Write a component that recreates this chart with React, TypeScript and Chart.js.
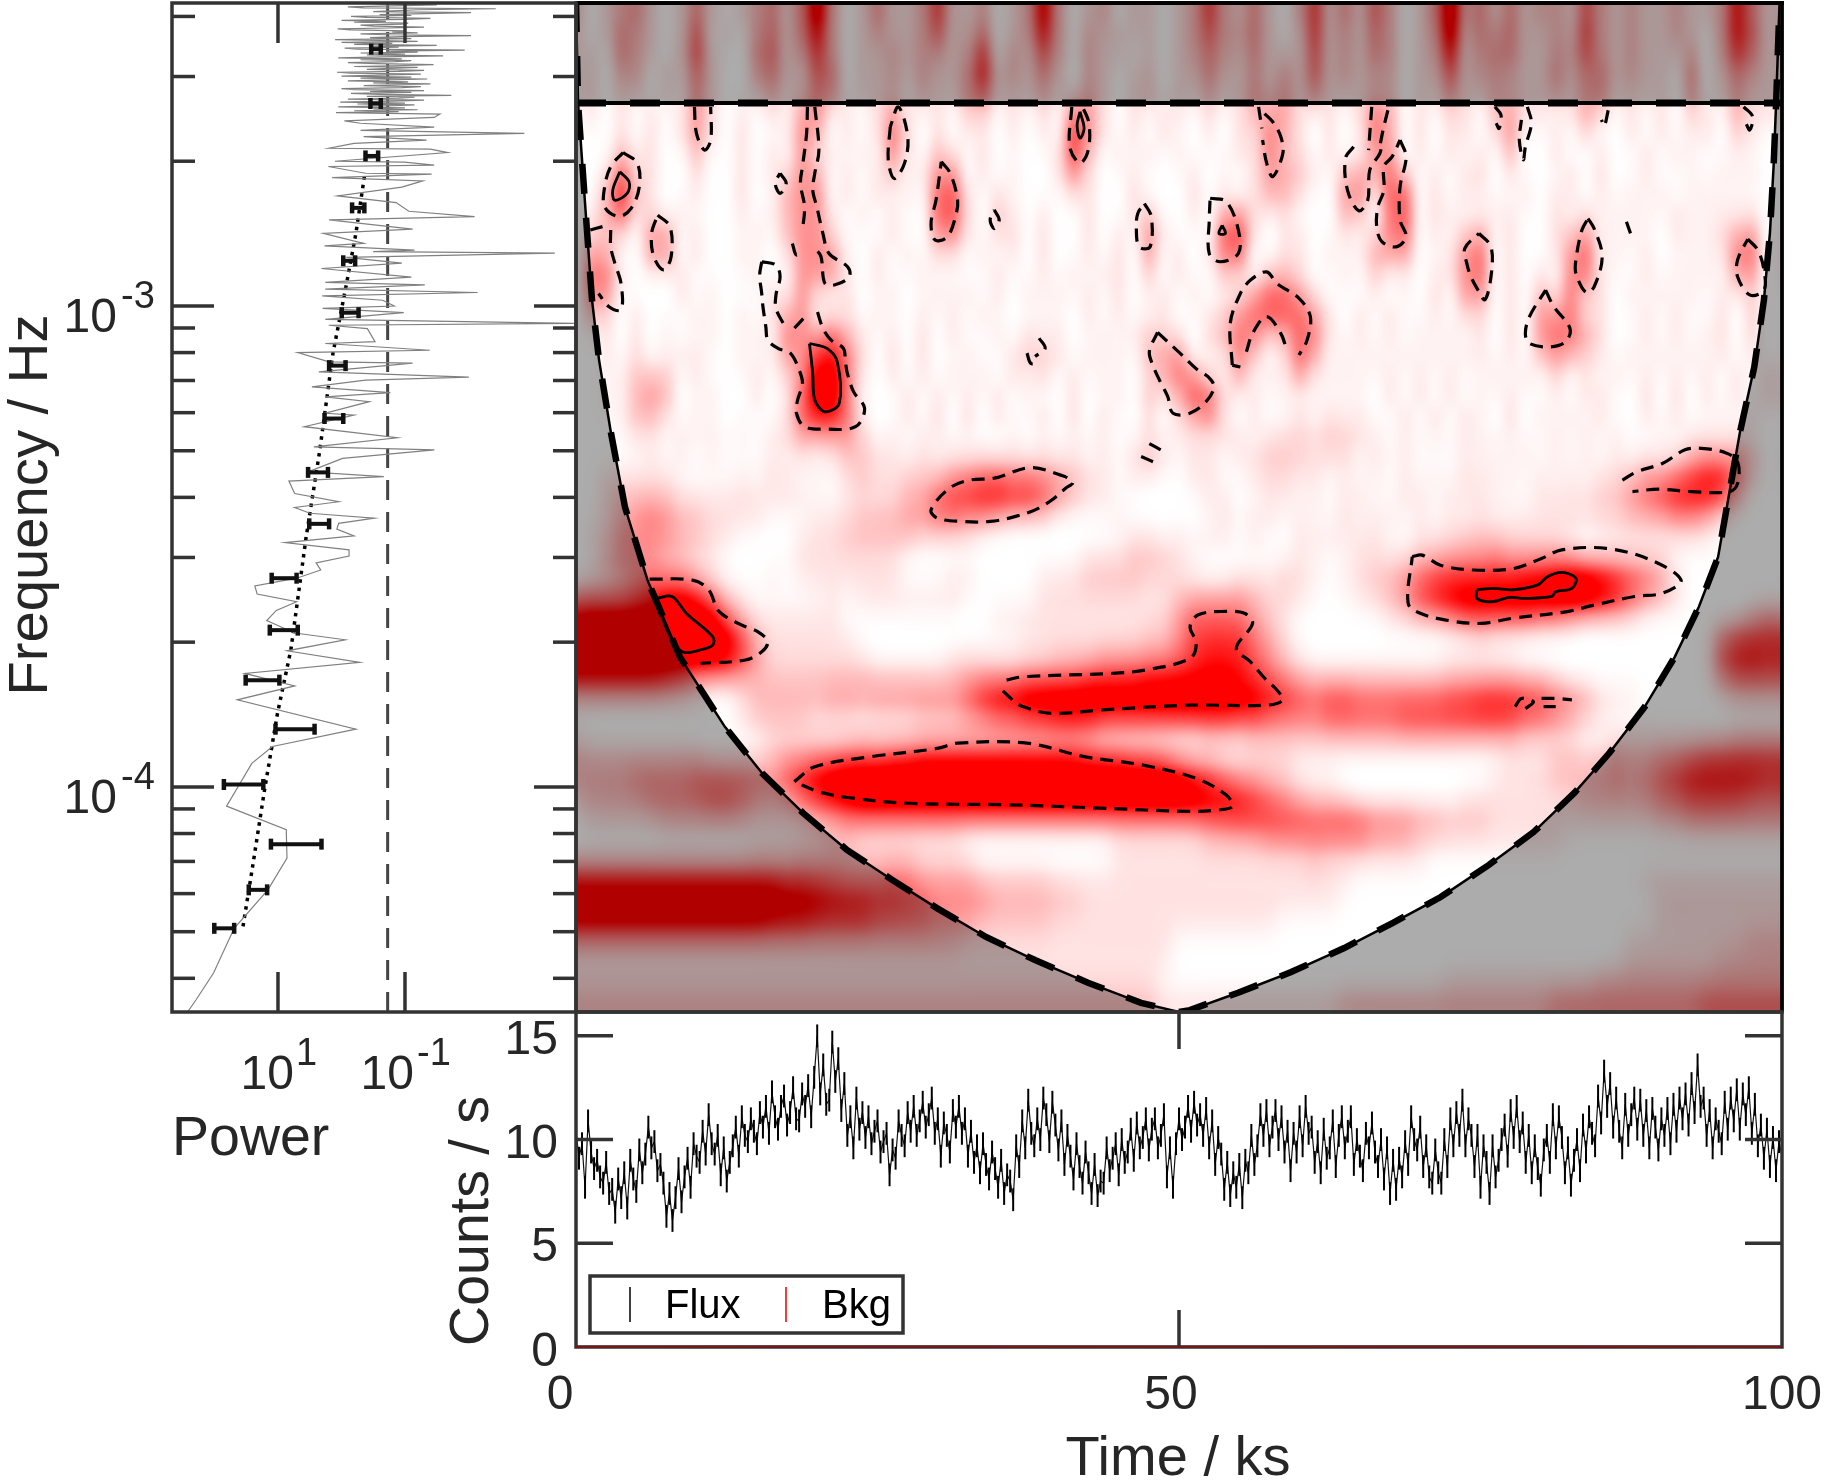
import React, { useEffect, useRef } from "react";
import { Chart, registerables } from "chart.js";

Chart.register(...registerables);

const FONT = '"Liberation Sans", Arial, sans-serif';
const INK = "#262626";
const FRAME = "#333333";

// axis limits, log10 of Hz and log10 of power
const LOG_F_TOP = -2.37;
const LOG_F_BOTTOM = -4.468;
const LOG_F_NYQUIST = -2.578;
const LOG_P_LEFT = 2.669;
const LOG_P_RIGHT = -3.693;
const LOG_P_DASHED = -0.727;

const freqMajorTicks = [1e-3, 1e-4];
const freqMinorTicks = [4e-3, 3e-3, 2e-3, 9e-4, 8e-4, 7e-4, 6e-4, 5e-4, 4e-4, 3e-4, 2e-4, 9e-5, 8e-5, 7e-5, 6e-5, 5e-5, 4e-5];
const powerTicks = [10, 0.1];
const countTicks = [5, 10, 15];
const timeTicks = [50];

// global wavelet spectrum, log10 Hz / log10 power
const specLogFreq = [-4.468, -4.443, -4.387, -4.294, -4.214, -4.148, -4.089, -4.04, -3.951, -3.916, -3.88, -3.819, -3.79, -3.764, -3.741, -3.717, -3.694, -3.68, -3.654, -3.633, -3.615, -3.599, -3.582, -3.566, -3.549, -3.534, -3.52, -3.507, -3.492, -3.478, -3.464, -3.452, -3.441, -3.431, -3.419, -3.407, -3.39, -3.364, -3.355, -3.345, -3.317, -3.299, -3.293, -3.274, -3.251, -3.227, -3.223, -3.199, -3.189, -3.18, -3.168, -3.154, -3.148, -3.137, -3.119, -3.116, -3.097, -3.092, -3.078, -3.074, -3.047, -3.04, -3.036, -3.028, -3.014, -3.005, -3.0, -2.988, -2.979, -2.972, -2.965, -2.956, -2.951, -2.94, -2.922, -2.911, -2.899, -2.89, -2.887, -2.884, -2.875, -2.87, -2.849, -2.84, -2.821, -2.814, -2.803, -2.785, -2.771, -2.753, -2.74, -2.733, -2.726, -2.724, -2.71, -2.707, -2.701, -2.699, -2.681, -2.674, -2.672, -2.662, -2.655, -2.648, -2.641, -2.635, -2.628, -2.62, -2.615, -2.608, -2.601, -2.598,
  -2.596, -2.594, -2.592, -2.59, -2.588, -2.586, -2.584, -2.582, -2.58, -2.578, -2.576, -2.574, -2.572, -2.57, -2.568, -2.566, -2.564, -2.562, -2.56, -2.558, -2.556, -2.554, -2.552, -2.55, -2.548, -2.546, -2.544, -2.542, -2.54, -2.538, -2.536, -2.534, -2.532, -2.53, -2.528, -2.526, -2.524, -2.522, -2.52, -2.518, -2.516, -2.514, -2.512, -2.51, -2.508, -2.506, -2.504, -2.502, -2.5, -2.498, -2.496, -2.494, -2.492, -2.49, -2.488, -2.486, -2.484, -2.482, -2.48, -2.478, -2.476, -2.474, -2.472, -2.47, -2.468, -2.466, -2.464, -2.462, -2.46, -2.458, -2.456, -2.454, -2.452, -2.45, -2.448, -2.446, -2.444, -2.442, -2.44, -2.438, -2.436, -2.434, -2.432, -2.43, -2.428, -2.426, -2.424, -2.422, -2.42, -2.418, -2.416, -2.414, -2.412, -2.41, -2.408, -2.406, -2.404, -2.402, -2.4, -2.398, -2.396, -2.394, -2.392, -2.39, -2.388, -2.386, -2.384, -2.382, -2.38, -2.378, -2.376, -2.374, -2.372, -2.37];
const specLogPower = [2.425, 2.292, 2.015, 1.69, 1.159, 0.858, 0.87, 1.81, 1.412, 1.087, -0.227, 1.641, 0.737, 1.52, -0.287, 0.858, -0.058, 0.737, 1.177, 1.026, 0.707, 1.328, 1.364, 0.707, 0.327, 0.4, -0.119, -0.119, 0.888, -0.197, 0.074, 0.044, -0.516, 0.496, 0.737, 0.044, 0.737, 0.828, -0.667, 0.526, -0.016, -1.463, 0.436, -0.878, 0.587, -0.197, 0.255, -0.438, 0.255, -0.77, 0.466, -0.378, -2.005, 0.357, -1.119, 0.195, 0.689, -1.39, 0.255, -0.528, -0.408, 0.2, -3.66, 0.255, -0.98, 0.297, -0.83, -0.649, 0.303, -2.144, 0.255, -1.312, 0.255, -1.1, 0.315, -0.95, -0.076, -3.36, -0.498, -1.15, 0.267, -0.348, 0.285, -1.12, 0.195, -2.096, -1.06, -0.86, 0.062, -0.95, -1.28, 0.147, -1.42, -0.378, 0.207, -1.46, -0.99, 0.104, -1.67, -1.4, 0.195, -0.197, -1.34, -0.348, -2.88, -0.3, -1.46, -0.3, -0.046, -1.46, -1.55, 0.086,
  -0.9, -0.2, -1.2, -0.5, -1.0, 0.05, -0.7, -1.15, -0.25, -1.0, 0.02, -0.8, -1.3, -0.1, -0.9, -1.15, -0.4, -1.73, -0.6, -0.15, -1.1, -0.45, -1.3, -0.2, 0.0, -0.95, -1.25, -0.35, -0.85, -1.4, -0.5, -1.05, -0.1, -0.75, -1.35, -0.3, -1.1, 0.0, -0.6, -1.25, -0.15, 0.07, -0.9, -1.3, -0.4, -0.75, -1.2, -0.2, -1.0, -1.45, -0.55, -0.1, -0.85, -1.1, -0.3, -0.95, 0.05, -0.65, -1.6, -0.4, -1.0, -0.3, -1.2, -0.7, -1.94, -0.25, -0.05, -0.9, -0.5, -1.5, -0.2, -0.8, 0.0, -1.2, -0.6, 0.1, -1.1, -0.45, -0.95, -2.04, -0.7, -0.3, -1.2, -0.8, -1.0, -0.15, 0.06, -0.75, -1.3, -0.5, -0.3, -0.95, -1.05, -0.2, -0.7, 0.0, -1.0, -1.4, -0.4, -0.15, -1.1, -0.6, -1.3, -2.04, -0.5, -0.9, -1.2, -2.43, -0.35, -0.1, -0.8, -1.5, -0.6, -0.3];

// binned spectrum with its error bars
const binLogFreq = [-4.294, -4.214, -4.119, -3.995, -3.88, -3.778, -3.674, -3.566, -3.453, -3.346, -3.234, -3.124, -3.014, -2.906, -2.796, -2.688, -2.579, -2.466];
const binLogPowerHigh = [2.003, 1.46, 1.111, 1.852, 1.039, 1.509, 1.129, 1.099, 0.508, 0.526, 0.267, 0.195, -0.004, -0.028, -0.167, -0.378, -0.456, -0.468];
const binLogPowerLow = [1.69, 1.171, 0.315, 1.231, 0.424, 0.978, 0.689, 0.707, 0.195, 0.213, -0.028, -0.064, -0.269, -0.215, -0.36, -0.577, -0.619, -0.619];

// dotted power law fit
const fitLogFreq = [-4.29, -4.166, -4.013, -3.847, -3.715, -3.48, -3.303, -3.098, -2.956, -2.849, -2.726];
const fitLogPower = [1.551, 1.4, 1.22, 1.008, 0.797, 0.556, 0.345, 0.134, -0.076, -0.227, -0.366];

// cone of influence
const coiTime = [0, 0.17, 0.83, 1.33, 1.91, 2.9, 4.06, 5.93, 8.62, 12.35, 15.42, 18.82, 22.47, 26.2, 29.93, 34, 38.06, 42.45, 46.85, 50, 50.9, 54.9, 59.3, 63.7, 67.7, 71.7, 75.7, 79.4, 82.8, 85.7, 88.6, 91.1, 93.1, 94.7, 96.5, 97.7, 98.5, 99, 99.3, 99.5, 99.8];
const coiLogFreq = [-2.368, -2.578, -2.815, -2.988, -3.112, -3.264, -3.418, -3.57, -3.73, -3.875, -3.971, -4.054, -4.131, -4.193, -4.252, -4.312, -4.36, -4.407, -4.449, -4.468, -4.464, -4.428, -4.385, -4.335, -4.283, -4.229, -4.162, -4.094, -4.012, -3.929, -3.834, -3.73, -3.626, -3.522, -3.264, -3.127, -2.988, -2.848, -2.711, -2.586, -2.368];
const nyquistTime = [0, 100];

// wavelet power, top row first, 1.25 ks per column
const powerRows = [
  "2012310131 0123138201 3112511201 2720120110 1252131025 1314201382 3131221421 2112112631",
  "1013210140 1023136201 2112411301 2620211110 1242231015 1213201281 3231121521 2112102641",
  "1103210151 0034125201 1212212502 1420211010 1232131114 1213201261 2331122421 2111202531",
  "1102201131 0023114301 1212112612 1310210110 1131121214 1212201141 2221131331 2110301321",
  "1101101031 0012113301 1102113411 1210210120 1121131313 1111101131 1211121231 1110301211",
  "0101010131 0101033010 1310101101 0104310101 1010123210 1014301011 0231101310 1010110311",
  "0001010131 0100133010 1410101101 0105310101 0010113310 1014201011 0130010100 1010110110",
  "0002110020 0101030101 0310210100 0015201010 1000114110 1002301010 1020010010 0101000100",
  "0014110010 0101133010 1201330101 0013100100 0101012321 0233410101 1010001010 0100101010",
  "0026210010 0100333010 1010451010 0001100100 0100013210 0330450101 1001011010 1010010100",
  "0124110100 0101133101 0100441021 0100100120 0103310100 0220440110 0110010101 0101101010",
  "0121033010 0010333100 0100341011 0100101031 0004510110 0101340102 3010012310 1001011330",
  "0320033010 0100033310 1010100101 0100101030 1014400110 1013330013 4010013401 0100101340",
  "0441000100 0010133300 1001010010 0101011010 1001102210 0101000113 4010103410 0101010330",
  "0330000101 0001031020 0100101010 1010101011 0101134431 0001010103 3010214110 1010101010",
  "0210100010 0101330100 1001010100 0100101001 0011345543 1010100101 1010333110 0101001020",
  "0010101001 0010333431 0101010010 1010010121 1013431143 1010101010 1010344310 0101011010",
  "0010100110 0101335631 0101001001 2210101023 3010320243 0101010101 1010232110 1010101010",
  "0001222010 0010137741 0101010101 0101010012 4301301030 1010101010 0101010101 0101010101",
  "0010232001 0010147730 0010101010 1001001021 2551010101 0100101010 1010010110 0101010101",
  "0001221010 0000146641 0010101010 0101010010 1231010010 1010010101 0010101010 0101001010",
  "0000110101 0101132231 0101101001 0101010010 1111101121 2211010101 1010010101 0010110100",
  "0000010101 0001010122 1101010101 0101010131 0110112211 1101010001 0101010101 0101233320",
  "0011111000 0101101012 1122234453 4332110100 0110011111 0101010101 1010101011 2334566410",
  "0012222111 1111110011 1122455666 6532110000 0011001101 0110011011 1100111122 3456665200",
  "0012343221 1110001112 2233443321 1100001000 0001011010 0101101010 1011111111 2223321000",
  "0113333221 1000011122 2221111000 0000000110 1011010011 1111001112 2211111011 1111110000",
  "0023332211 0000011111 1100000000 0000111222 1100000010 0011112233 3433332111 1110000000",
  "0112343321 0001011111 1100011000 0111222211 1000111211 0112234555 5556678876 5431000000",
  "3333457764 2100000101 1111110000 0111111111 2333321110 0011235678 8888888876 4321000000",
  "7888888887 4211111100 0000000011 1111111111 3444432100 0000112234 4444332111 1000000023",
  "8888888888 7521111110 0000000000 1111111122 3555532100 0000000000 1000000000 0000004555",
  "8888888888 7531111111 0000011111 1122233333 4566654210 0000000011 1110000000 0000004565",
  "6666665422 2222222222 2222223333 4444555566 6666543322 2222222222 2222210000 0000003444",
  "1111111110 0122222333 3333334677 8888888888 8888887654 5544444455 6665544311 1000000111",
  "0000000000 0122221110 1112223344 5566655555 5555443333 4444455555 5554432110 0000000000",
  "1000000000 0001111112 1111111111 1111100000 0011122222 2222222222 2221111001 1111111222",
  "2222222221 1112334455 5667777777 7777666554 3221111100 0000000000 0011122223 2233455555",
  "2222333344 4443567888 8888888888 8888888888 7654332211 1000000000 0111122223 2345666665",
  "1222233334 4322245678 8888888888 8888888888 8877654321 1100000001 1111111222 2233444433",
  "0111112222 2211112233 3333333333 3333333333 3344555555 5554443322 2111111111 1122333333",
  "0000000000 0011111221 1111110000 0000001111 1122223333 3332221111 1111110000 0000000000",
  "1111111111 1111122222 2221111000 0000001111 1111111112 1111111000 0000000000 0000000000",
  "6666666666 6666554433 3443333222 2211111111 1111111111 1100000000 0000000000 0111111111",
  "8888888888 8888777666 5544333322 2222111111 1111111111 1000000000 0000000000 0011111111",
  "7777777777 7776665555 4444333222 2211111111 1111111000 0000000000 0000000000 0011111111",
  "2222222222 2222222222 2222221111 1111111111 0000000000 0000000000 0000000000 1111111122",
  "1111111111 1111111111 1111111111 1111111111 0000000000 0000000000 0000000000 1111112222",
  "1111111111 1111111111 1111111111 1111111110 0000000000 0000000011 1111111122 2222222222",
  "2222222222 2222222222 2222222222 2222222221 1111111111 1222222222 2222233333 3333344444",
];

// significance contours as [ks, log10 Hz]
const dashedContours: number[][][] = [
  [[3.9, -2.681], [5.08, -2.703], [5.25, -2.752], [4.57, -2.797], [3.56, -2.814], [2.38, -2.794], [2.38, -2.752], [2.88, -2.71], [3.9, -2.681]],
  [[2.88, -2.842], [2.88, -2.877], [3.22, -2.911], [3.73, -2.953], [3.73, -3.008], [2.71, -3.001], [1.87, -2.974]],
  [[1.19, -2.842], [2.2, -2.835]],
  [[6.77, -2.811], [7.79, -2.835], [7.89, -2.897], [7.28, -2.925], [6.44, -2.897], [6.27, -2.849], [6.77, -2.811]],
  [[9.82, -2.586], [9.99, -2.641], [10.66, -2.676], [11.17, -2.655], [11.17, -2.586]],
  [[19.19, -2.586], [19.12, -2.641], [18.78, -2.71], [18.61, -2.745], [18.95, -2.794], [18.78, -2.842]],
  [[19.8, -2.586], [20.14, -2.676], [19.8, -2.724], [19.63, -2.759], [19.97, -2.794], [20.47, -2.849], [20.98, -2.891], [22.5, -2.918], [22.67, -2.939], [21.49, -2.956], [20.64, -2.953], [20.31, -2.897], [19.8, -2.88]],
  [[17.94, -2.87], [18.28, -2.894], [18.78, -2.883]],
  [[16.92, -2.724], [17.43, -2.745], [16.92, -2.766], [16.52, -2.745], [16.92, -2.724]],
  [[15.4, -2.908], [16.58, -2.915], [16.92, -2.939], [16.58, -2.977], [16.58, -3.005], [17.26, -3.04]],
  [[15.4, -2.908], [15.23, -2.936], [15.4, -2.974], [15.5, -3.001], [15.74, -3.043], [15.91, -3.071], [16.75, -3.088], [17.77, -3.098], [18.45, -3.13], [18.78, -3.161], [18.38, -3.195], [18.28, -3.223], [18.95, -3.251], [20.81, -3.256], [23.18, -3.251], [23.93, -3.213], [23.01, -3.178], [22.5, -3.14], [22.34, -3.116], [22.17, -3.088], [21.15, -3.071], [20.47, -3.046], [19.97, -3.008]],
  [[18.11, -3.046], [19.12, -3.019]],
  [[26.06, -2.627], [25.89, -2.696], [26.39, -2.735], [27.24, -2.703], [27.51, -2.648], [26.73, -2.586], [26.06, -2.627]],
  [[30.29, -2.7], [31.03, -2.724], [31.64, -2.78], [31.47, -2.814], [30.79, -2.856], [29.78, -2.863], [29.44, -2.828], [29.85, -2.78], [30.29, -2.7]],
  [[34.68, -2.8], [35.09, -2.821], [34.68, -2.839], [34.34, -2.821], [34.68, -2.8]],
  [[41.11, -2.586], [40.94, -2.669], [41.79, -2.703], [42.47, -2.676], [42.53, -2.62], [41.96, -2.584]],
  [[47.13, -2.787], [47.7, -2.814], [47.6, -2.877], [46.69, -2.877], [46.46, -2.835], [46.59, -2.807], [47.13, -2.787]],
  [[38.4, -3.067], [38.9, -3.088], [38.07, -3.105]],
  [[37.4, -3.098], [37.7, -3.119], [38.3, -3.119]],
  [[48.22, -3.055], [50.08, -3.098], [51.4, -3.13], [52.4, -3.147], [52.9, -3.168], [52.24, -3.199], [50.9, -3.223], [49.5, -3.223], [49.06, -3.188], [48.38, -3.154], [47.88, -3.126], [47.54, -3.095], [48.22, -3.055]],
  [[40.6, -3.355], [37.73, -3.336], [34.68, -3.358], [32.65, -3.362], [30.96, -3.379], [29.44, -3.424], [29.95, -3.441], [31.98, -3.448], [34.35, -3.448], [36.37, -3.438], [38.07, -3.424], [39.42, -3.404], [40.6, -3.379], [41.2, -3.367], [40.6, -3.355]],
  [[47.54, -3.286], [48.55, -3.3]],
  [[46.86, -3.313], [48.05, -3.326]],
  [[56.6, -2.586], [56.87, -2.631]],
  [[57.1, -2.6], [57.77, -2.617], [58.44, -2.648], [58.61, -2.683], [57.77, -2.731], [57.27, -2.703], [56.93, -2.655]],
  [[64.48, -2.669], [63.8, -2.693], [63.97, -2.759], [64.91, -2.802], [65.65, -2.78], [65.82, -2.717], [66.65, -2.683], [66.82, -2.662]],
  [[65.98, -2.586], [65.72, -2.676]],
  [[67.32, -2.593], [66.92, -2.634], [66.65, -2.669]],
  [[68.33, -2.655], [68.83, -2.69], [68.33, -2.752], [68.33, -2.821], [68.83, -2.856], [68, -2.877], [66.82, -2.866], [66.39, -2.835], [66.49, -2.794], [66.99, -2.759], [66.99, -2.71], [67.66, -2.69], [68.33, -2.655]],
  [[52.58, -2.776], [53.92, -2.783], [54.92, -2.842], [54.92, -2.891], [53.41, -2.908], [52.51, -2.891], [52.51, -2.821], [52.58, -2.776]],
  [[54.42, -3.123], [54.25, -3.036], [55.09, -2.974], [55.93, -2.946], [57.27, -2.929], [58.11, -2.953], [59.95, -2.984], [60.89, -3.022], [60.62, -3.071], [59.95, -3.102]],
  [[55.59, -3.095], [56.1, -3.057], [57.27, -3.022], [58.44, -3.057], [58.94, -3.092]],
  [[54.42, -3.123], [55.09, -3.127]],
  [[74.87, -2.849], [75.87, -2.877], [75.87, -2.939], [75.37, -2.987], [74.87, -2.97], [74.2, -2.939], [73.86, -2.911], [73.7, -2.88], [74.87, -2.849]],
  [[83.92, -2.818], [84.42, -2.839], [85.09, -2.897], [84.42, -2.96], [83.75, -2.972], [82.91, -2.932], [82.91, -2.904], [83.41, -2.842], [83.92, -2.818]],
  [[87.1, -2.825], [87.44, -2.849]],
  [[80.4, -2.967], [81.07, -3.001], [82.41, -3.046], [82.07, -3.074], [80.73, -3.085], [79.06, -3.078], [78.72, -3.057], [79.06, -3.022], [80.4, -2.967]],
  [[97.16, -2.861], [98, -2.884], [98.5, -2.925], [98.5, -2.967], [97.33, -2.977], [96.32, -2.939], [96.32, -2.904], [97.16, -2.861]],
  [[76.2, -2.586], [76.7, -2.603], [76.54, -2.631], [76.3, -2.62]],
  [[78.89, -2.586], [79.22, -2.62], [78.72, -2.669], [78.55, -2.696], [78.22, -2.655], [78.39, -2.613]],
  [[85.59, -2.593], [85.26, -2.626], [85.03, -2.613]],
  [[96.82, -2.586], [97.56, -2.606], [97.33, -2.634], [97, -2.62]],
  [[86.77, -3.362], [87.94, -3.345], [90.12, -3.327], [91.96, -3.299], [93.3, -3.296], [95.31, -3.305], [96.32, -3.324], [96.32, -3.369], [95.65, -3.386], [92.47, -3.386], [89.78, -3.381], [87.6, -3.386]],
  [[6.1, -3.568], [9.65, -3.57], [11, -3.59], [11.85, -3.635], [13.71, -3.663], [15.06, -3.677], [15.9, -3.698], [15.4, -3.719], [14.05, -3.736], [10.33, -3.743]],
  [[35.7, -3.778], [37.05, -3.771], [44.5, -3.764], [47.2, -3.757], [50.92, -3.733], [51.43, -3.701], [50.92, -3.667], [51.6, -3.642], [53.92, -3.635], [55.43, -3.639], [56.1, -3.66], [54.75, -3.712], [55.93, -3.74], [57.1, -3.774], [58.1, -3.798], [58.6, -3.819], [57.27, -3.83], [50.9, -3.83], [43.5, -3.84], [39.42, -3.847], [37.05, -3.833], [36.2, -3.819], [35.19, -3.795]],
  [[18.1, -3.989], [19.8, -3.958], [24.5, -3.937], [29.95, -3.92], [31.64, -3.909], [37.39, -3.909], [42.13, -3.937], [46.86, -3.954], [51.4, -3.982], [53.92, -4.017], [54.42, -4.041], [53.08, -4.048], [50.9, -4.051], [43.48, -4.044], [35.7, -4.037], [27.6, -4.034], [22.5, -4.022], [20.14, -4.01], [18.1, -3.989]],
  [[69.34, -3.521], [70.17, -3.518], [71.68, -3.539], [74.36, -3.549], [77.72, -3.546], [80.06, -3.525], [81.74, -3.507], [85.43, -3.504], [89.11, -3.528], [91.63, -3.57], [90.12, -3.597], [87.77, -3.604], [84.42, -3.622], [82.07, -3.636], [77.72, -3.649], [75.03, -3.66], [72.35, -3.654], [70, -3.639], [69, -3.618], [69.34, -3.521]],
  [[77.88, -3.833], [78.39, -3.816], [79.39, -3.823], [78.72, -3.837]],
  [[80.06, -3.816], [81.4, -3.816], [82.58, -3.819]],
  [[81.24, -3.833], [80.23, -3.833]],
];
const solidContours: number[][][] = [
  [[3.63, -2.721], [4.4, -2.742], [4.24, -2.766], [3.22, -2.78], [3.05, -2.759], [3.63, -2.721]],
  [[19.36, -3.078], [20.81, -3.088], [21.66, -3.116], [21.83, -3.202], [20.64, -3.22], [19.8, -3.195], [19.63, -3.14], [19.36, -3.078]],
  [[41.79, -2.596], [42.13, -2.631], [41.79, -2.651], [41.55, -2.624], [41.79, -2.596]],
  [[53.58, -2.832], [53.85, -2.849], [53.31, -2.849], [53.58, -2.832]],
  [[6.67, -3.608], [7.96, -3.604], [9.14, -3.639], [11.34, -3.688], [11.34, -3.705], [10.33, -3.715], [8.8, -3.719], [7.62, -3.677], [6.67, -3.608]],
  [[74.7, -3.59], [76.04, -3.587], [77.72, -3.59], [79.73, -3.58], [80.56, -3.563], [81.74, -3.554], [82.91, -3.566], [82.58, -3.587], [81.24, -3.594], [80.9, -3.604], [78.72, -3.608], [77.38, -3.606], [75.87, -3.615], [74.7, -3.608], [74.7, -3.59]],
];

// light curve, one sample every 0.25 ks
const fluxCounts = [
  10.4, 9.1, 9.8, 7.7, 10.9, 9.4, 8.6, 9.0, 8.2, 7.9, 8.9, 7.4, 7.6, 6.5, 8.1, 7.2,
  8.4, 6.7, 9.0, 8.1, 7.5, 9.5, 8.4, 9.3, 10.6, 9.6, 9.9, 8.5, 8.8, 7.9, 6.3, 7.4,
  6.1, 7.2, 8.6, 7.0, 8.2, 9.1, 7.7, 9.8, 9.2, 8.9, 10.4, 9.3, 11.2, 9.8, 9.3, 10.2,
  8.3, 9.6, 8.0, 8.9, 9.7, 10.6, 9.2, 11.1, 10.2, 9.9, 11.0, 10.4, 9.8, 11.3, 10.6, 11.6,
  10.3, 12.3, 11.1, 10.5, 11.6, 12.1, 10.7, 11.3, 12.5, 11.0, 10.9, 12.2, 11.6, 12.6, 11.1, 13.0,
  15.0, 12.2, 13.6, 11.7, 11.9, 14.7, 12.8, 13.9, 11.4, 12.7, 10.2, 11.1, 9.6, 12.0, 10.5, 11.3,
  10.1, 11.1, 9.8, 10.4, 10.9, 9.4, 9.9, 10.3, 8.3, 9.5, 9.1, 10.9, 10.2, 9.7, 11.3, 10.4,
  11.6, 10.2, 10.9, 11.8, 10.6, 11.2, 12.0, 10.3, 11.0, 9.2, 10.8, 10.2, 9.4, 11.4, 10.6, 11.6,
  10.3, 11.0, 9.2, 10.4, 8.9, 9.7, 8.4, 9.8, 8.8, 8.1, 9.4, 8.6, 7.7, 9.0, 7.4, 8.3,
  8.0, 7.1, 9.7, 8.7, 10.9, 9.6, 11.9, 10.3, 9.7, 11.0, 10.0, 12.0, 11.2, 9.9, 11.8, 10.7,
  9.5, 10.9, 8.8, 10.2, 9.2, 8.1, 9.8, 8.7, 7.9, 9.4, 8.4, 7.4, 8.8, 7.3, 8.0, 7.9,
  9.6, 8.5, 9.1, 9.8, 8.3, 10.0, 8.9, 9.4, 10.5, 9.0, 10.8, 9.6, 10.1, 11.0, 9.5, 10.5,
  11.0, 9.6, 10.2, 11.2, 8.2, 9.6, 7.7, 9.8, 11.0, 10.0, 10.6, 11.6, 10.4, 11.8, 10.7, 11.2,
  10.2, 11.5, 9.6, 10.9, 8.8, 10.1, 9.3, 7.6, 8.9, 7.3, 8.4, 7.7, 8.8, 7.2, 9.0, 8.4,
  10.2, 8.8, 9.7, 11.2, 10.2, 11.4, 9.7, 10.6, 11.4, 10.0, 11.1, 9.4, 10.4, 8.5, 10.3, 9.4,
  11.1, 9.7, 11.6, 10.3, 10.6, 8.9, 9.9, 8.4, 10.5, 9.1, 9.6, 10.9, 8.7, 10.2, 11.1, 9.6,
  10.4, 11.1, 8.8, 10.0, 9.2, 8.5, 10.3, 9.6, 10.8, 9.4, 8.7, 10.0, 8.1, 9.6, 7.4, 9.0,
  7.6, 9.1, 8.2, 9.9, 8.8, 11.1, 10.0, 9.5, 10.6, 8.7, 9.7, 8.2, 7.9, 9.5, 8.4, 7.9,
  10.0, 8.7, 11.0, 9.7, 11.3, 10.2, 11.9, 9.7, 11.0, 10.2, 8.7, 10.2, 7.7, 9.7, 8.9, 7.4,
  9.7, 8.2, 9.0, 10.0, 10.7, 9.2, 11.4, 10.1, 11.6, 9.9, 10.8, 8.9, 10.2, 8.4, 9.7, 8.6,
  7.8, 9.5, 10.2, 8.9, 11.2, 9.6, 11.1, 10.1, 8.4, 9.6, 7.8, 9.0, 10.0, 8.5, 10.7, 9.4,
  11.1, 10.3, 9.7, 12.1, 10.8, 13.3, 11.6, 12.7, 10.6, 12.0, 10.4, 9.6, 11.7, 10.2, 11.2, 12.0,
  10.5, 11.9, 10.2, 11.4, 9.6, 11.5, 10.6, 9.5, 11.0, 10.2, 11.5, 9.8, 11.7, 10.4, 12.0, 11.0,
  12.2, 10.7, 12.7, 11.3, 13.6, 11.6, 12.0, 10.2, 11.4, 9.6, 11.0, 10.4, 9.8, 11.8, 10.5, 12.0,
  10.9, 12.4, 10.5, 12.2, 11.2, 12.5, 10.3, 11.7, 9.7, 10.7, 9.1, 10.5, 8.7, 10.1, 8.5, 9.9, 9.2,
];
const fluxError = 0.55;
const bkgTime = [0, 25, 50, 75, 100];
const bkgCounts = [0.04, 0.05, 0.04, 0.05, 0.04];

const rawGrid = powerRows.map((r) => r.replace(/ /g, "").split("").map(Number));

// a little smoothing so the coarse readout shades like the continuous map
const grid = rawGrid.map((row, j) =>
  row.map((_, i) => {
    const at = (a: number, b: number) =>
      rawGrid[Math.max(0, Math.min(rawGrid.length - 1, a))][Math.max(0, Math.min(row.length - 1, b))];
    const vert = (k: number) => (at(j - 1, k) + 2 * at(j, k) + at(j + 1, k)) / 4;
    // upper rows keep their narrow vertical streaks
    const side = j <= 20 ? 6 : 3;
    return (vert(i - 1) + side * vert(i) + vert(i + 1)) / (side + 2);
  })
);

function hz(v: number) {
  return Math.pow(10, v);
}

function text(ctx: any, s: string, x: number, y: number, size: number, align = "left", color = INK) {
  ctx.font = `${size}px ${FONT}`;
  ctx.fillStyle = color;
  ctx.textAlign = align;
  ctx.textBaseline = "alphabetic";
  ctx.fillText(s, x, y);
}

function rotated(ctx: any, s: string, x: number, y: number, size: number) {
  ctx.save();
  ctx.translate(x, y);
  ctx.rotate(-Math.PI / 2);
  text(ctx, s, 0, 0, size, "center");
  ctx.restore();
}

function line(ctx: any, x1: number, y1: number, x2: number, y2: number, width: number, color: string) {
  ctx.strokeStyle = color;
  ctx.lineWidth = width;
  ctx.beginPath();
  ctx.moveTo(x1, y1);
  ctx.lineTo(x2, y2);
  ctx.stroke();
}

function frame(ctx: any, a: any, color = FRAME) {
  ctx.strokeStyle = color;
  ctx.lineWidth = 3.5;
  ctx.strokeRect(a.left, a.top, a.right - a.left, a.bottom - a.top);
}

function cubic(p0: number, p1: number, p2: number, p3: number, t: number) {
  return p1 + 0.5 * t * (p2 - p0 + t * (2 * p0 - 5 * p1 + 4 * p2 - p3 + t * (3 * (p1 - p2) + p3 - p0)));
}

function gridAt(u: number, v: number) {
  const rows = grid.length;
  const cols = grid[0].length;
  const iu = Math.floor(u);
  const iv = Math.floor(v);
  const fu = u - iu;
  const fv = v - iv;
  const col = [0, 0, 0, 0];
  for (let j = 0; j < 4; j++) {
    const row = grid[Math.min(rows - 1, Math.max(0, iv + j - 1))];
    const at = (k: number) => row[Math.min(cols - 1, Math.max(0, iu + k))] || 0;
    col[j] = cubic(at(-1), at(0), at(1), at(2), fu);
  }
  return Math.max(0, cubic(col[0], col[1], col[2], col[3], fv));
}

function coiAt(t: number) {
  for (let i = 1; i < coiTime.length; i++) {
    if (t <= coiTime[i]) {
      const f = (t - coiTime[i - 1]) / (coiTime[i] - coiTime[i - 1]);
      return coiLogFreq[i - 1] + f * (coiLogFreq[i] - coiLogFreq[i - 1]);
    }
  }
  return LOG_F_TOP;
}

// paints the power grid through the chart's scales, greyed outside the cone
const heatmapPlugin = {
  id: "heatmap",
  beforeDatasetsDraw(chart: any) {
    const { ctx, chartArea: a, scales } = chart;
    const w = Math.round(a.right - a.left);
    const h = Math.round(a.bottom - a.top);
    const off = document.createElement("canvas");
    off.width = w;
    off.height = h;
    const octx = off.getContext("2d") as CanvasRenderingContext2D;
    const img = octx.createImageData(w, h);
    const rowStep = (LOG_F_TOP - LOG_F_BOTTOM) / grid.length;
    const colStep = 100 / grid[0].length;
    for (let py = 0; py < h; py++) {
      const logF = Math.log10(scales.y.getValueForPixel(a.top + py + 0.5));
      const v = (LOG_F_TOP - logF) / rowStep - 0.5;
      for (let px = 0; px < w; px++) {
        const t = scales.x.getValueForPixel(a.left + px + 0.5);
        const k = Math.pow(Math.min(gridAt(t / colStep, v) / 6, 1), 1.2);
        const inside = logF < LOG_F_NYQUIST && logF > coiAt(t);
        const i = (py * w + px) * 4;
        if (inside) {
          img.data[i] = 255;
          img.data[i + 1] = 255 * (1 - k);
          img.data[i + 2] = 255 * (1 - k);
        } else {
          img.data[i] = 172 + 4 * k;
          img.data[i + 1] = 172 * (1 - k);
          img.data[i + 2] = 172 * (1 - k);
        }
        img.data[i + 3] = 255;
      }
    }
    octx.putImageData(img, 0, 0);
    ctx.drawImage(off, a.left, a.top, a.right - a.left, a.bottom - a.top);
  },
  afterDatasetsDraw(chart: any) {
    const { ctx, chartArea: a } = chart;
    frame(ctx, a);
    line(ctx, a.left, a.top, a.right + 2, a.top, 4, "#000");
    line(ctx, a.right, a.top, a.right, a.bottom, 3.5, "#000");
  },
};

const spectrumPlugin = {
  id: "spectrumAxes",
  afterDatasetsDraw(chart: any) {
    const { ctx, chartArea: a, scales } = chart;
    ctx.save();
    binLogFreq.forEach((f, i) => {
      const y = scales.y.getPixelForValue(hz(f));
      const x1 = scales.x.getPixelForValue(hz(binLogPowerHigh[i]));
      const x2 = scales.x.getPixelForValue(hz(binLogPowerLow[i]));
      line(ctx, x1, y, x2, y, 4, "#111");
      line(ctx, x1, y - 5.5, x1, y + 5.5, 4.5, "#111");
      line(ctx, x2, y - 5.5, x2, y + 5.5, 4.5, "#111");
    });
    freqMajorTicks.forEach((v) => {
      const y = scales.y.getPixelForValue(v);
      line(ctx, a.left, y, a.left + 42, y, 3.5, FRAME);
      line(ctx, a.right, y, a.right - 42, y, 3.5, FRAME);
      const exp = v === 1e-3 ? "-3" : "-4";
      text(ctx, "10", 117, y + 26, 48, "right");
      text(ctx, exp, 121, y + 2, 38);
    });
    freqMinorTicks.forEach((v) => {
      const y = scales.y.getPixelForValue(v);
      line(ctx, a.left, y, a.left + 23, y, 3.5, FRAME);
      line(ctx, a.right, y, a.right - 23, y, 3.5, FRAME);
    });
    powerTicks.forEach((v) => {
      const x = scales.x.getPixelForValue(v);
      line(ctx, x, a.top, x, a.top + 40, 3.5, FRAME);
      line(ctx, x, a.bottom, x, a.bottom - 40, 3.5, FRAME);
    });
    frame(ctx, a);
    text(ctx, "10", 294, 1089, 48, "right");
    text(ctx, "1", 296, 1065, 38);
    text(ctx, "10", 414, 1089, 48, "right");
    text(ctx, "-1", 417, 1065, 38);
    text(ctx, "Power", 172, 1155, 55.5);
    rotated(ctx, "Frequency / Hz", 47, 505, 56.2);
    ctx.restore();
  },
};

const lightCurvePlugin = {
  id: "lightCurveAxes",
  afterDatasetsDraw(chart: any) {
    const { ctx, chartArea: a, scales } = chart;
    ctx.save();
    // each sample carries a short vertical error bar
    fluxCounts.forEach((v, i) => {
      const x = scales.x.getPixelForValue(i * 0.25);
      line(ctx, x, scales.y.getPixelForValue(v - fluxError), x, scales.y.getPixelForValue(v + fluxError), 2, "#000");
    });
    countTicks.forEach((v) => {
      const y = scales.y.getPixelForValue(v);
      line(ctx, a.left, y, a.left + 37, y, 3.5, FRAME);
      line(ctx, a.right, y, a.right - 37, y, 3.5, FRAME);
      text(ctx, String(v), 558, y + 18, 48, "right");
    });
    text(ctx, "0", 558, scales.y.getPixelForValue(0) + 19, 48, "right");
    timeTicks.forEach((v) => {
      const x = scales.x.getPixelForValue(v);
      line(ctx, x, a.top, x, a.top + 37, 3.5, FRAME);
      line(ctx, x, a.bottom, x, a.bottom - 37, 3.5, FRAME);
    });
    frame(ctx, a);
    line(ctx, a.left, a.bottom, a.right, a.bottom, 1.5, "#8a1010");
    text(ctx, "0", 560, 1409, 48, "center");
    text(ctx, "50", 1171, 1409, 48, "center");
    text(ctx, "100", 1782, 1409, 48, "center");
    text(ctx, "Time / ks", 1178, 1475, 56, "center");
    rotated(ctx, "Counts / s", 488, 1221, 55.5);
    // legend
    ctx.fillStyle = "#fff";
    ctx.fillRect(590, 1276, 313, 57);
    ctx.strokeStyle = FRAME;
    ctx.lineWidth = 3.5;
    ctx.strokeRect(590, 1276, 313, 57);
    line(ctx, 630, 1287, 630, 1322, 1.5, "#000");
    line(ctx, 786, 1287, 786, 1322, 1.5, "#e00000");
    text(ctx, "Flux", 665, 1318, 40, "left", "#000");
    text(ctx, "Bkg", 822, 1318, 40, "left", "#000");
    ctx.restore();
  },
};

function scatterOptions(xScale: any, yScale: any, padding: any) {
  return {
    responsive: false,
    animation: false as const,
    layout: { padding },
    plugins: { legend: { display: false }, tooltip: { enabled: false } },
    scales: { x: { display: false, ...xScale }, y: { display: false, ...yScale } },
    elements: { point: { radius: 0 } },
  };
}

function Panel({ build }: { build: (c: HTMLCanvasElement) => Chart }) {
  const ref = useRef<HTMLCanvasElement | null>(null);
  useEffect(() => {
    if (!ref.current) return;
    const chart = build(ref.current);
    return () => chart.destroy();
  }, [build]);
  return (
    <canvas
      ref={ref}
      width={1824}
      height={1482}
      style={{ position: "absolute", left: 0, top: 0, width: 1824, height: 1482 }}
    />
  );
}

const logFreqScale = { type: "logarithmic", min: hz(LOG_F_BOTTOM), max: hz(LOG_F_TOP) };

function buildWavelet(c: HTMLCanvasElement) {
  const contour = (pts: number[][], dash: number[], width: number) => ({
    data: pts.map((p) => ({ x: p[0], y: hz(p[1]) })),
    showLine: true,
    borderColor: "#000",
    borderWidth: width,
    borderDash: dash,
    tension: 0.35,
    pointRadius: 0,
  });
  const coiPts = coiTime.map((t, i) => ({ x: t, y: hz(coiLogFreq[i]) }));
  const nyqPts = nyquistTime.map((t) => ({ x: t, y: hz(LOG_F_NYQUIST) }));
  const edge = (data: any[], dash: number[], width: number) => ({
    data,
    showLine: true,
    borderColor: "#000",
    borderWidth: width,
    borderDash: dash,
    pointRadius: 0,
  });
  return new Chart(c, {
    type: "scatter",
    data: {
      datasets: [
        ...dashedContours.map((p) => contour(p, [13, 8], 3.2)),
        ...solidContours.map((p) => contour(p, [], 2.8)),
        edge(coiPts, [], 2.5),
        edge(coiPts, [30, 24], 6.5),
        edge(nyqPts, [], 4),
        edge(nyqPts, [30, 24], 7),
      ] as any,
    },
    options: scatterOptions({ type: "linear", min: 0, max: 100 }, logFreqScale, { left: 576, top: 3, right: 42, bottom: 470 }) as any,
    plugins: [heatmapPlugin as any],
  });
}

function buildSpectrum(c: HTMLCanvasElement) {
  return new Chart(c, {
    type: "scatter",
    data: {
      datasets: [
        {
          data: specLogFreq.map((f, i) => ({ x: hz(specLogPower[i]), y: hz(f) })),
          showLine: true,
          borderColor: "#808080",
          borderWidth: 1.2,
          pointRadius: 0,
        },
        {
          data: [{ x: hz(LOG_P_DASHED), y: hz(LOG_F_BOTTOM) }, { x: hz(LOG_P_DASHED), y: hz(LOG_F_TOP) }],
          showLine: true,
          borderColor: "#444",
          borderWidth: 3,
          borderDash: [20, 12],
          pointRadius: 0,
        },
        {
          data: fitLogFreq.map((f, i) => ({ x: hz(fitLogPower[i]), y: hz(f) })),
          showLine: true,
          borderColor: "#000",
          borderWidth: 3.5,
          borderDash: [3.5, 5],
          pointRadius: 0,
        },
      ] as any,
    },
    options: scatterOptions(
      { type: "logarithmic", reverse: true, min: hz(LOG_P_RIGHT), max: hz(LOG_P_LEFT) },
      logFreqScale,
      { left: 172, top: 3, right: 1248, bottom: 470 }
    ) as any,
    plugins: [spectrumPlugin as any],
  });
}

function buildLightCurve(c: HTMLCanvasElement) {
  return new Chart(c, {
    type: "scatter",
    data: {
      datasets: [
        {
          data: fluxCounts.map((v, i) => ({ x: i * 0.25, y: v })),
          showLine: true,
          borderColor: "#111",
          borderWidth: 1.2,
          pointRadius: 0,
        },
        {
          data: bkgTime.map((t, i) => ({ x: t, y: bkgCounts[i] })),
          showLine: true,
          borderColor: "#e00000",
          borderWidth: 1,
          pointRadius: 0,
        },
      ] as any,
    },
    options: scatterOptions({ type: "linear", min: 0, max: 100 }, { type: "linear", min: 0, max: 16.15 }, { left: 576, top: 1012, right: 42, bottom: 135 }) as any,
    plugins: [lightCurvePlugin as any],
  });
}

export default function App() {
  return (
    <div style={{ position: "absolute", left: 0, top: 0, width: 1824, height: 1482, background: "#fff", overflow: "hidden" }}>
      <Panel build={buildWavelet} />
      <Panel build={buildSpectrum} />
      <Panel build={buildLightCurve} />
    </div>
  );
}
